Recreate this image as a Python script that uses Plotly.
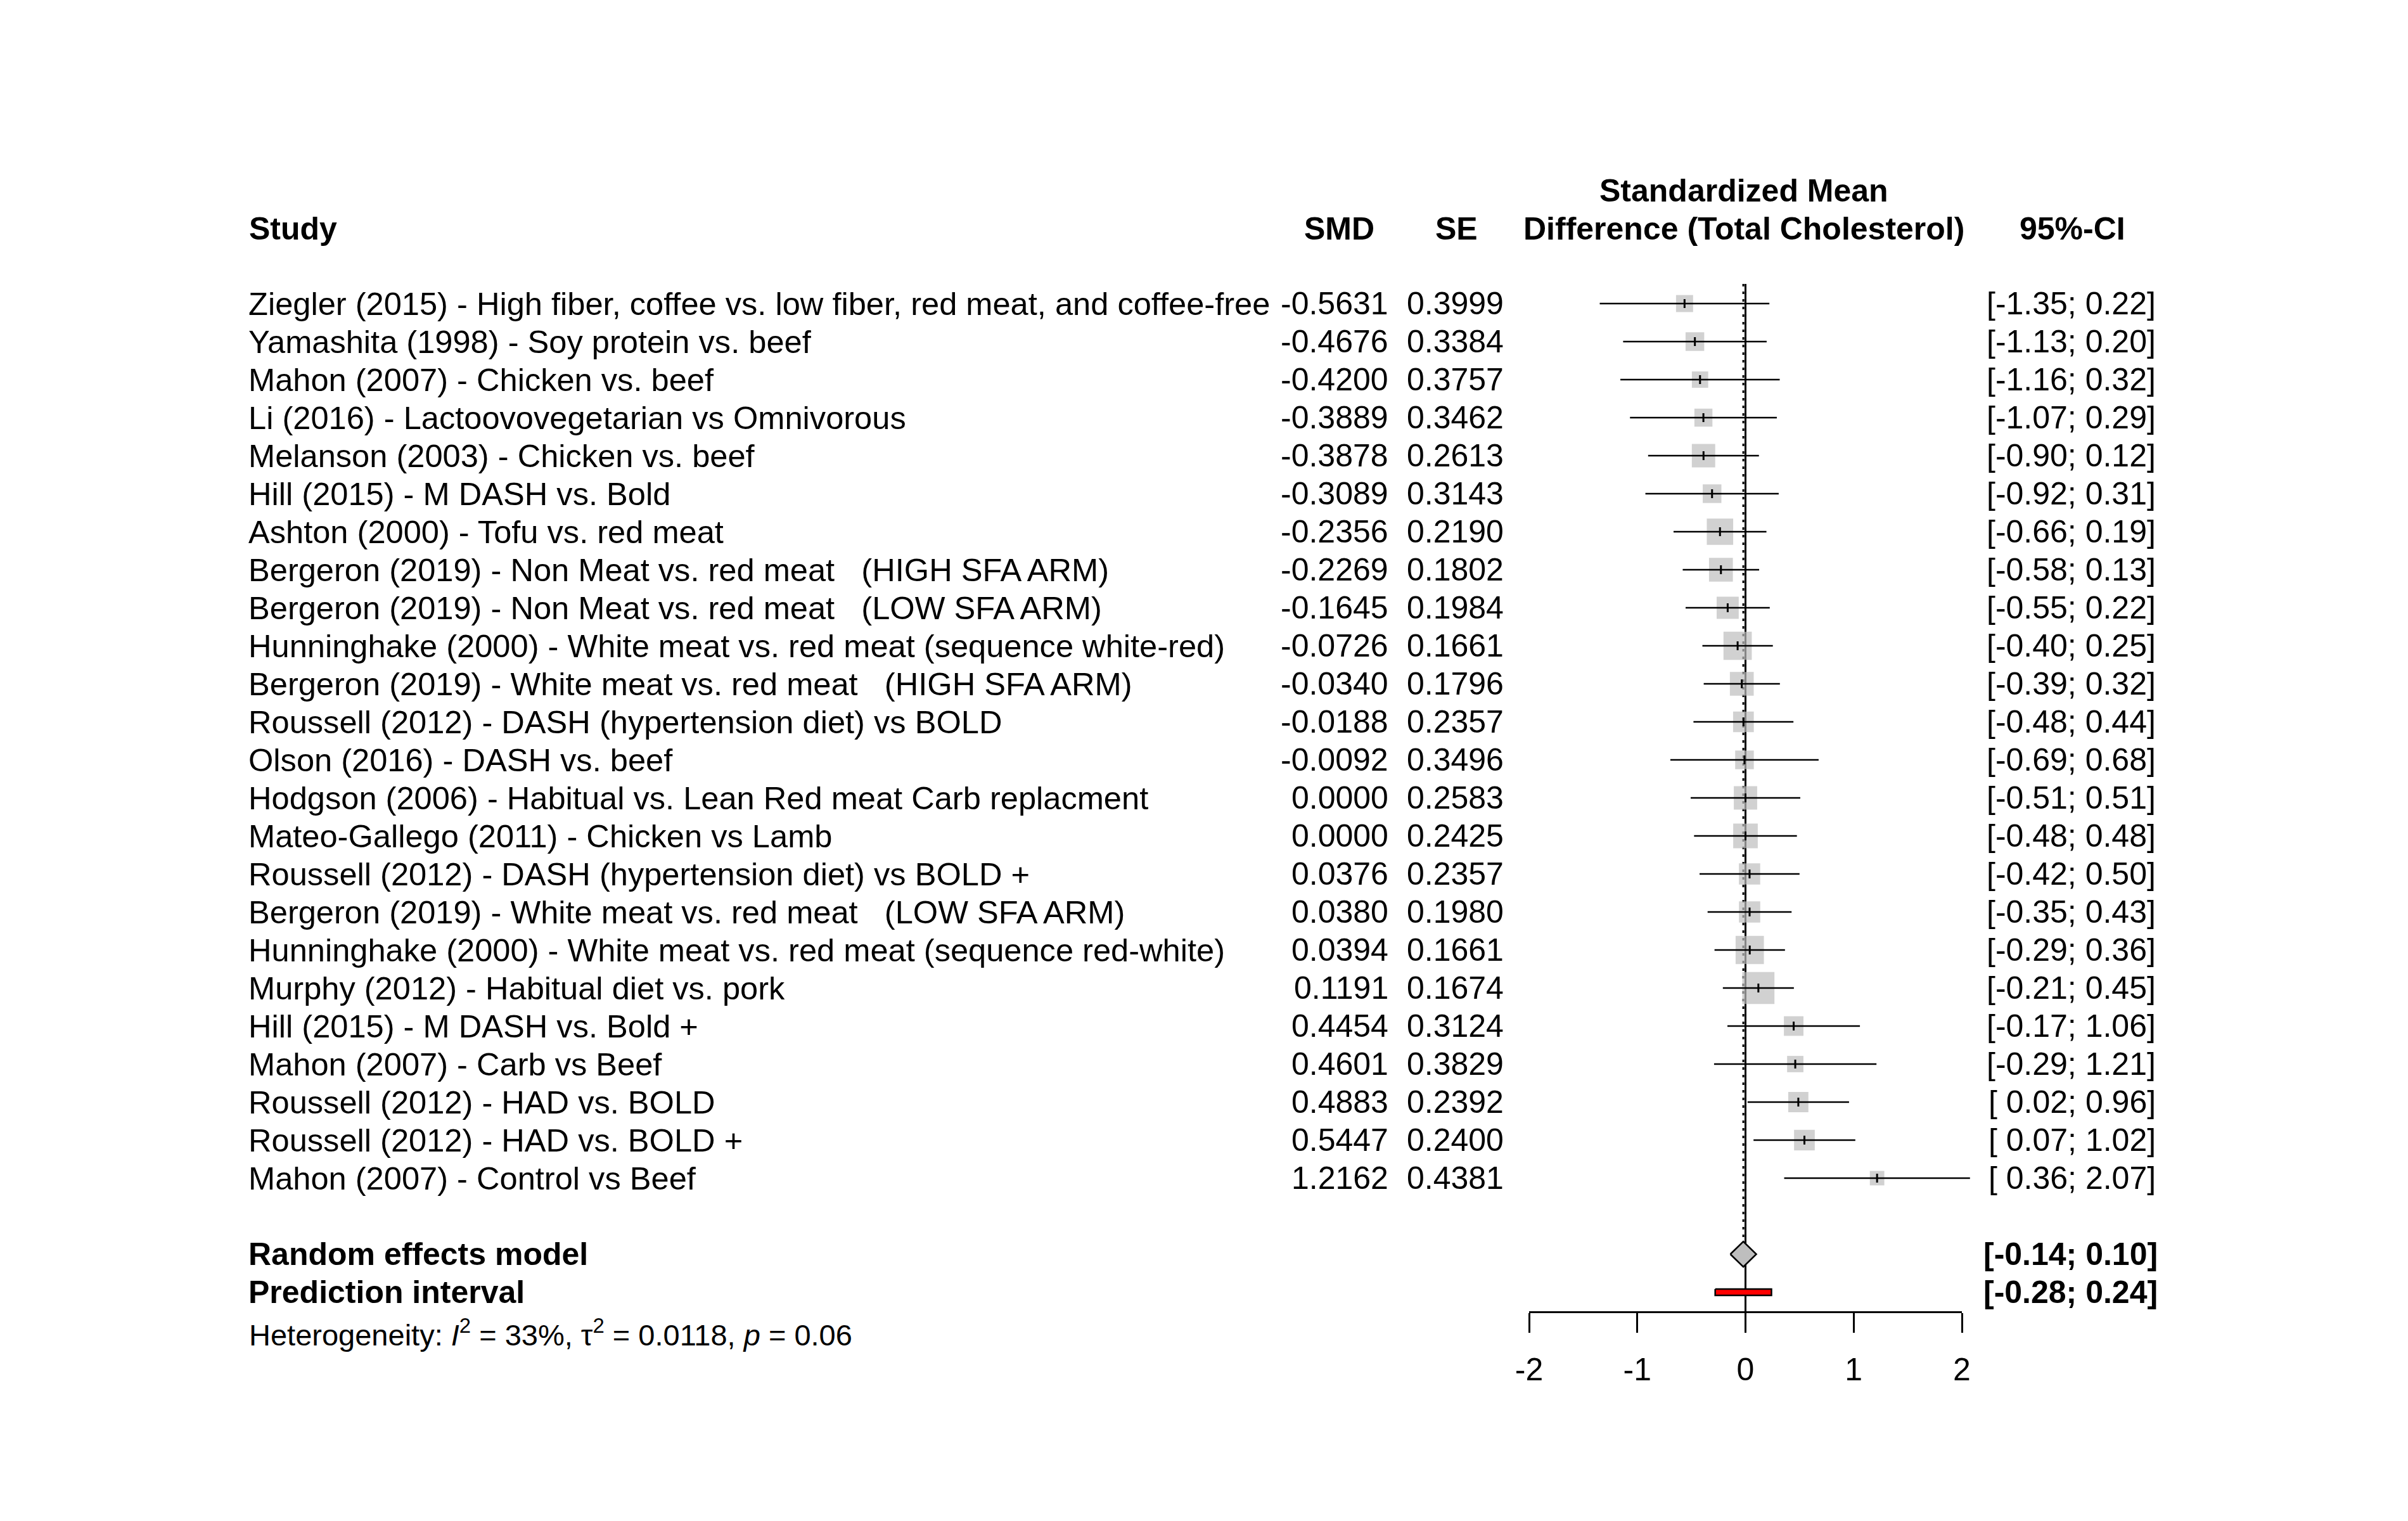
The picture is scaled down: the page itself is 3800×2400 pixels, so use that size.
import plotly.graph_objects as go
import numpy as np

# ---------------- data ----------------
studies = [
    "Ziegler (2015) - High fiber, coffee vs. low fiber, red meat, and coffee-free",
    "Yamashita (1998) - Soy protein vs. beef",
    "Mahon (2007) - Chicken vs. beef",
    "Li (2016) - Lactoovovegetarian vs Omnivorous",
    "Melanson (2003) - Chicken vs. beef",
    "Hill (2015) - M DASH vs. Bold",
    "Ashton (2000) - Tofu vs. red meat",
    "Bergeron (2019) - Non Meat vs. red meat\u00a0\u00a0\u00a0(HIGH SFA ARM)",
    "Bergeron (2019) - Non Meat vs. red meat\u00a0\u00a0\u00a0(LOW SFA ARM)",
    "Hunninghake (2000) - White meat vs. red meat (sequence white-red)",
    "Bergeron (2019) - White meat vs. red meat\u00a0\u00a0\u00a0(HIGH SFA ARM)",
    "Roussell (2012) - DASH (hypertension diet) vs BOLD",
    "Olson (2016) - DASH vs. beef",
    "Hodgson (2006) - Habitual vs. Lean Red meat Carb replacment",
    "Mateo-Gallego (2011) - Chicken vs Lamb",
    "Roussell (2012) - DASH (hypertension diet) vs BOLD +",
    "Bergeron (2019) - White meat vs. red meat\u00a0\u00a0\u00a0(LOW SFA ARM)",
    "Hunninghake (2000) - White meat vs. red meat (sequence red-white)",
    "Murphy (2012) - Habitual diet vs. pork",
    "Hill (2015) - M DASH vs. Bold +",
    "Mahon (2007) - Carb vs Beef",
    "Roussell (2012) - HAD vs. BOLD",
    "Roussell (2012) - HAD vs. BOLD +",
    "Mahon (2007) - Control vs Beef",
]
smd = [-0.5631, -0.4676, -0.4200, -0.3889, -0.3878, -0.3089, -0.2356, -0.2269,
       -0.1645, -0.0726, -0.0340, -0.0188, -0.0092, 0.0000, 0.0000, 0.0376,
       0.0380, 0.0394, 0.1191, 0.4454, 0.4601, 0.4883, 0.5447, 1.2162]
se = [0.3999, 0.3384, 0.3757, 0.3462, 0.2613, 0.3143, 0.2190, 0.1802,
      0.1984, 0.1661, 0.1796, 0.2357, 0.3496, 0.2583, 0.2425, 0.2357,
      0.1980, 0.1661, 0.1674, 0.3124, 0.3829, 0.2392, 0.2400, 0.4381]
# study weights (%) as estimated from square areas
weights = [2.5, 3.0, 2.3, 2.8, 4.7, 3.0, 6.0, 4.9, 4.2, 6.9, 4.9, 3.7,
           3.0, 4.7, 5.2, 3.9, 3.9, 6.9, 8.9, 3.3, 2.3, 3.5, 3.7, 1.8]
re_est = -0.02
re_ci = [-0.14, 0.10]
pi_ci = [-0.28, 0.24]
het_i2 = "33%"
het_tau2 = "0.0118"
het_p = "0.06"
x_ticks = [-2, -1, 0, 1, 2]

# ---------------- layout geometry ----------------
W, H = 3800, 2400
ROW0, ROWH = 479.0, 60.0        # pixel y of first study row, row height
ZERO_PX, UNIT = 2754.5, 170.75   # pixel x of SMD=0, pixels per SMD unit
AXIS_PX = 2069
FS, FS_NAME, FS_HET = 50, 50.6, 47
FONT = "Liberation Sans, Arial, sans-serif"

n = len(studies)
rows = list(range(n))
row_re, row_pi = n + 1, n + 2

smd_a = np.array(smd)
se_a = np.array(se)
lo = smd_a - 1.96 * se_a
hi = smd_a + 1.96 * se_a

def px_x(p):
    return p / W

def px_y(p):
    return 1 - p / H

def px_row(p):
    return (p - ROW0) / ROWH

fig = go.Figure()

# reference line at 0 (solid) and random-effects estimate (dotted)
axis_row = px_row(AXIS_PX)
top_row = px_row(448)
fig.add_trace(go.Scatter(x=[0, 0], y=[top_row, axis_row], mode="lines",
                         line=dict(color="black", width=3), hoverinfo="skip"))
fig.add_trace(go.Scatter(x=[re_est, re_est], y=[top_row, row_re - 1/3], mode="lines",
                         line=dict(color="black", width=3, dash="4px,8px"), hoverinfo="skip"))

# study squares (area ~ weight)
sizes = [17.0 * np.sqrt(w) for w in weights]
fig.add_trace(go.Scatter(x=smd, y=rows, mode="markers",
                         marker=dict(symbol="square", size=sizes, color="#BEBEBE",
                                     line=dict(width=0)), hoverinfo="skip"))
# confidence intervals
cx, cy = [], []
for i in range(n):
    cx += [lo[i], hi[i], None]
    cy += [i, i, None]
fig.add_trace(go.Scatter(x=cx, y=cy, mode="lines", line=dict(color="black", width=2.5),
                         hoverinfo="skip"))
# point estimates
fig.add_trace(go.Scatter(x=smd, y=rows, mode="markers",
                         marker=dict(symbol="line-ns", size=10, color="black",
                                     line=dict(color="black", width=3)), hoverinfo="skip"))

# diamond
dh = 20 / ROWH
fig.add_trace(go.Scatter(x=[re_ci[0], re_est, re_ci[1], re_est, re_ci[0]],
                         y=[row_re, row_re - dh, row_re, row_re + dh, row_re],
                         mode="lines", fill="toself", fillcolor="#BEBEBE",
                         line=dict(color="black", width=2.5), hoverinfo="skip"))
# prediction interval
ph = 5 / ROWH
fig.add_trace(go.Scatter(x=[pi_ci[0], pi_ci[1], pi_ci[1], pi_ci[0], pi_ci[0]],
                         y=[row_pi - ph, row_pi - ph, row_pi + ph, row_pi + ph, row_pi - ph],
                         mode="lines", fill="toself", fillcolor="red",
                         line=dict(color="black", width=2.5), hoverinfo="skip"))

# invisible trace so the visible SMD axis is drawn
fig.add_trace(go.Scatter(x=[0], y=[0], xaxis="x2", yaxis="y2", mode="markers",
                         marker=dict(opacity=0), hoverinfo="skip"))

ann = []

def add_text(text, x_px, y, yref="y", xanchor="left", size=FS, bold=False):
    if bold:
        text = "<b>" + text + "</b>"
    ann.append(dict(text=text, x=px_x(x_px), xref="paper", y=y, yref=yref,
                    xanchor=xanchor, yanchor="middle", showarrow=False,
                    font=dict(family=FONT, size=size, color="black")))

add_text("Study", 391, px_y(361), "paper", bold=True)
add_text("SMD", 2113, px_y(361), "paper", "center", bold=True)
add_text("SE", 2298, px_y(361), "paper", "center", bold=True)
add_text("Standardized Mean", 2752, px_y(301), "paper", "center", bold=True)
add_text("Difference (Total Cholesterol)", 2752, px_y(361), "paper", "center", bold=True)
add_text("95%-CI", 3270, px_y(361), "paper", "center", bold=True)

def ci_text(a, b):
    s = f"[{a:5.2f}; {b:.2f}]"
    return s.replace("[ ", "[\u00a0")

for i in range(n):
    add_text(studies[i], 390, i, size=FS_NAME)
    add_text(f"{smd[i]:.4f}", 2193, i, xanchor="right")
    add_text(f"{se[i]:.4f}", 2375, i, xanchor="right")
    add_text(ci_text(lo[i], hi[i]), 3404, i, xanchor="right")

add_text("Random effects model", 390, row_re, bold=True)
add_text("Prediction interval", 390, row_pi, bold=True)
add_text(ci_text(re_ci[0], re_ci[1]), 3407, row_re, xanchor="right", bold=True)
add_text(ci_text(pi_ci[0], pi_ci[1]), 3407, row_pi, xanchor="right", bold=True)
add_text(f"Heterogeneity: <i>I</i><sup>2</sup> = {het_i2}, \u03c4<sup>2</sup> = {het_tau2}, "
         f"<i>p</i> = {het_p}", 391, px_row(2103), size=FS_HET)

fig.update_layout(
    template="none",
    width=W, height=H, autosize=False,
    margin=dict(l=0, r=0, t=0, b=0, pad=0, autoexpand=False),
    paper_bgcolor="white", plot_bgcolor="rgba(0,0,0,0)",
    showlegend=False,
    font=dict(family=FONT, size=FS, color="black"),
    xaxis=dict(domain=[0, 1], range=[(0 - ZERO_PX) / UNIT, (W - ZERO_PX) / UNIT],
               visible=False, fixedrange=True, automargin=False),
    yaxis=dict(domain=[0, 1], range=[px_row(H), px_row(0)], visible=False,
               fixedrange=True, automargin=False),
    xaxis2=dict(domain=[px_x(ZERO_PX - 2 * UNIT), px_x(ZERO_PX + 2 * UNIT)],
                range=[-2, 2], anchor="y2", showline=True, linecolor="black", linewidth=3,
                ticks="outside", ticklen=31, tickwidth=3, tickcolor="black",
                tickvals=x_ticks, ticktext=[str(t) for t in x_ticks],
                tickfont=dict(family=FONT, size=FS, color="black"),
                ticklabelstandoff=15, automargin=False,
                showgrid=False, zeroline=False, fixedrange=True),
    yaxis2=dict(domain=[px_y(AXIS_PX), px_y(AXIS_PX) + 0.001], visible=False,
                fixedrange=True, automargin=False),
    annotations=ann,
)

fig.write_html("out.html",
               config={"displayModeBar": False, "responsive": False},
               default_width="3800px", default_height="2400px",
               post_script="document.body.style.margin='0';document.body.style.overflow='hidden';")
